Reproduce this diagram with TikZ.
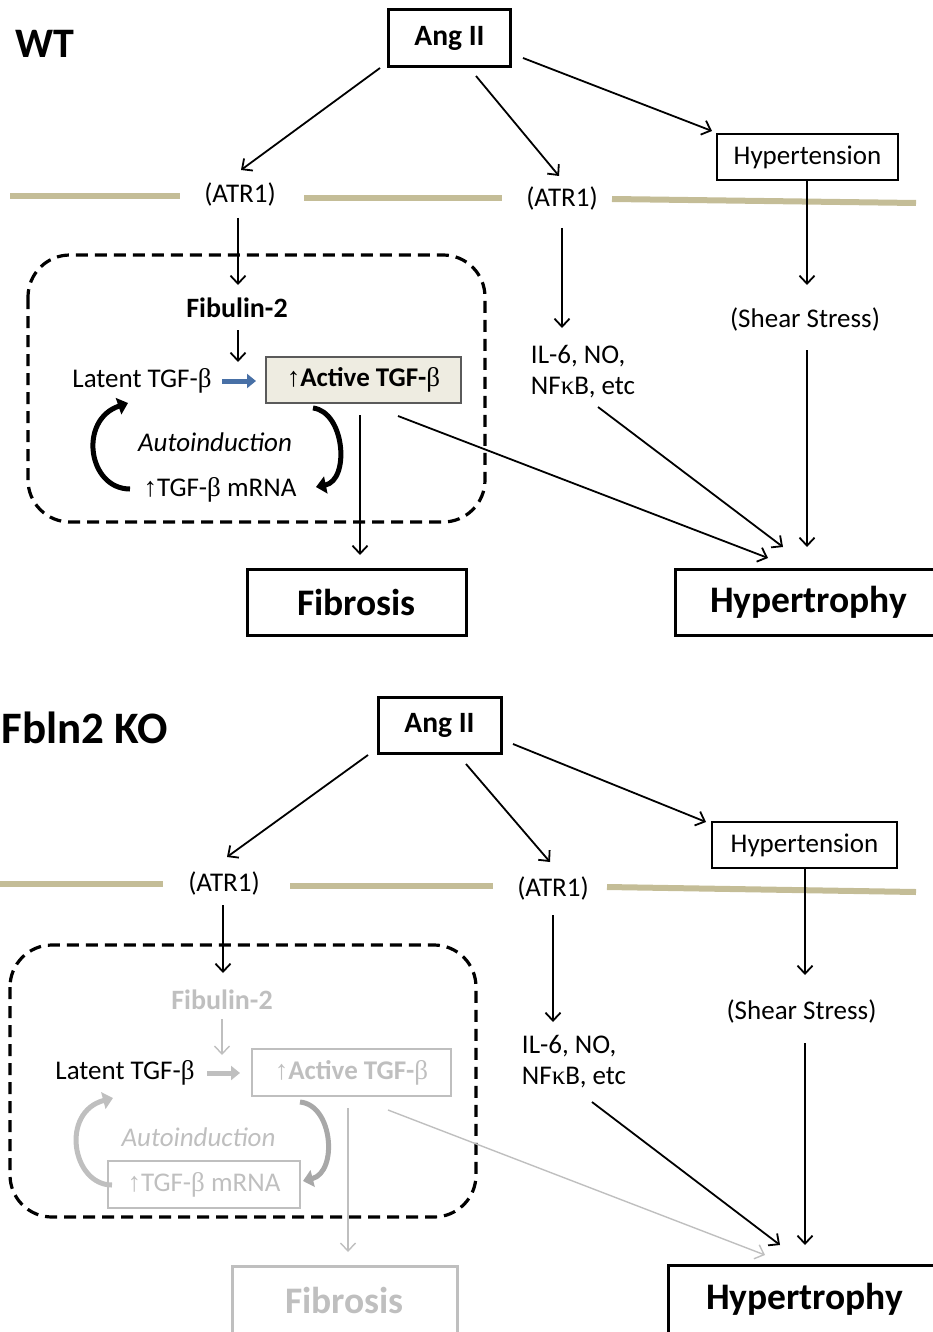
\documentclass[tikz,border=0pt]{standalone}
\usepackage{fontspec}
\setmainfont{Carlito}
\newfontfamily\grk{Liberation Serif}
\usetikzlibrary{arrows.meta}

\newcommand{\tgfb}{{\grk\mdseries β}}
\newcommand{\upar}{{\grk\mdseries ↑}}

\definecolor{membr}{RGB}{196,189,151}
\definecolor{actfill}{RGB}{238,236,225}
\definecolor{actline}{RGB}{90,90,90}
\definecolor{pushblue}{RGB}{72,112,166}
\definecolor{kogrey}{RGB}{191,191,191}
\definecolor{loopgrey}{RGB}{168,168,168}

\tikzset{
 lbl/.style={inner sep=0pt, font=\fontsize{42}{48}\selectfont\bfseries},
 txt/.style={inner sep=0pt, font=\fontsize{27}{31}\selectfont},
 btxt/.style={inner sep=0pt, font=\fontsize{28}{31}\selectfont\bfseries},
 itxt/.style={inner sep=0pt, font=\fontsize{27}{31}\selectfont\itshape},
 angbox/.style={draw, line width=3pt, minimum width=122pt, minimum height=57pt, inner sep=0pt, font=\fontsize{29.5}{33}\selectfont\bfseries},
 hypbox/.style={draw, line width=1.2pt, minimum width=181pt, minimum height=46pt, inner sep=0pt, font=\fontsize{27}{31}\selectfont},
 actbox/.style={draw=actline, fill=actfill, line width=1.2pt, minimum width=195pt, minimum height=46pt, inner sep=0pt, font=\fontsize{27}{31}\selectfont\bfseries},
 endbox/.style={draw, line width=3pt, minimum height=66pt, inner sep=0pt, font=\fontsize{37.5}{42}\selectfont\bfseries},
 arr/.style={-{Straight Barb[length=8pt,width=15pt]}, line width=1.8pt},
 greyarr/.style={arr, kogrey, line width=1.4pt},
 loop/.style={-{Triangle[length=10pt,width=17pt]}, line width=5pt},
 push/.style={-{Triangle[length=9pt,width=14pt]}, line width=5pt},
 membrane/.style={line width=6pt, color=membr},
 cellwall/.style={line width=3.2pt, dash pattern=on 12pt off 7pt, rounded corners=42pt}
}

\begin{document}
\begin{tikzpicture}[x=1pt,y=-1pt]
 \path[use as bounding box] (0,0) rectangle (933,1332);
 \clip (0,0) rectangle (933,1332);

 % ---- WT ----
 \node[lbl] (wt) at (44.5,44) {WT};
 \node[angbox] (angA) at (449.5,38) {Ang II};
 \node[hypbox] (hypA) at (807.5,157) {Hypertension};
 \draw[membrane] (10,196) -- (180,196);
 \draw[membrane] (304,198) -- (502,198);
 \draw[membrane] (612,199) -- (916,203);
 \node[txt] (atrLA) at (240,194) {(ATR1)};
 \node[txt] (atrMA) at (562,198) {(ATR1)};
 \draw[cellwall] (28,255) rectangle (485,522);
 \node[btxt] (fibA) at (237,308) {Fibulin-2};
 \coordinate (jA) at (238,362);
 \node[txt] (latA) at (142,381) {Latent TGF-\tgfb};
 \node[actbox] (actA) at (363.5,380) {\upar Active TGF-\tgfb};
 \node[itxt] (autoA) at (215,442) {Autoinduction};
 \node[txt] (mrnaA) at (220,490) {\upar TGF-\tgfb{} mRNA};
 \node[txt, align=left] (ilA) at (583,372) {IL-6, NO,\\NF{\grk κ}B, etc};
 \node[txt] (shearA) at (805,319) {(Shear Stress)};
 \node[endbox, minimum width=219pt] (fibrA) at (356.5,602) {Fibrosis};
 \node[endbox, minimum width=270pt, text width=266pt, align=left] (hyperA) at (810,602) {\hspace*{33pt}Hypertrophy};

 \draw[arr] ([shift={(-69.5,30)}]angA.center) -- ([shift={(1,-24)}]atrLA.center);
 \draw[arr] ([shift={(26.5,38)}]angA.center) -- ([shift={(-3,-22)}]atrMA.center);
 \draw[arr] ([shift={(73.5,20)}]angA.center) -- ([shift={(-95.5,-26)}]hypA.center);
 \draw[arr] ([shift={(-2,24)}]atrLA.center) -- ([shift={(1,-23)}]fibA.center);
 \draw[arr] ([shift={(1,22)}]fibA.center) -- (jA);
 \draw[push, pushblue] ([shift={(80,0)}]latA.center) -- ([shift={(-107.5,1)}]actA.center);
 \draw[loop] ([shift={(-90,-1)}]mrnaA.center) .. controls (88,489) and (78,420) .. ([shift={(-14,22)}]latA.center);
 \draw[loop] ([shift={(-50.5,28)}]actA.center) .. controls (345,412) and (350,480) .. ([shift={(96,-3)}]mrnaA.center);
 \draw[arr] ([shift={(-3.5,35)}]actA.center) -- ([shift={(3.5,-47)}]fibrA.center);
 \draw[arr] ([shift={(34.5,36)}]actA.center) -- ([shift={(-42,-44)}]hyperA.center);
 \draw[arr] ([shift={(0,30)}]atrMA.center) -- ([shift={(-21,-44)}]ilA.center);
 \draw[arr] ([shift={(15,35)}]ilA.center) -- ([shift={(-27,-55)}]hyperA.center);
 \draw[arr] ([shift={(-0.5,23)}]hypA.center) -- ([shift={(2,-34)}]shearA.center);
 \draw[arr] ([shift={(2,31)}]shearA.center) -- ([shift={(-3,-55)}]hyperA.center);

 % ---- Fbln2 KO ----
 \node[lbl, font=\fontsize{45}{50}\selectfont\bfseries] (ko) at (84.5,728) {Fbln2 KO};
 \node[angbox, minimum width=123pt, minimum height=56pt] (angB) at (439.5,725) {Ang II};
 \node[hypbox, minimum width=185pt] (hypB) at (804.5,845) {Hypertension};
 \draw[membrane] (0,884) -- (163,884);
 \draw[membrane] (290,886) -- (493,886);
 \draw[membrane] (607,887) -- (916,892);
 \node[txt] (atrLB) at (224,883) {(ATR1)};
 \node[txt] (atrMB) at (553,888) {(ATR1)};
 \draw[cellwall] (10,945) rectangle (476,1217);
 \node[btxt, kogrey] (fibB) at (222,1000) {Fibulin-2};
 \coordinate (jB) at (222,1055);
 \node[txt] (latB) at (125,1073) {Latent TGF-\tgfb};
 \node[actbox, draw=kogrey, fill=none, text=kogrey, minimum width=199pt, minimum height=47pt] (actB) at (351.5,1072.5) {\upar Active TGF-\tgfb};
 \node[itxt, kogrey] (autoB) at (198.5,1137) {Autoinduction};
 \node[hypbox, draw=kogrey, text=kogrey, minimum width=192pt, minimum height=47pt] (mrnaB) at (204,1184.5) {\upar TGF-\tgfb{} mRNA};
 \node[txt, align=left] (ilB) at (574,1062) {IL-6, NO,\\NF{\grk κ}B, etc};
 \node[txt] (shearB) at (801.5,1011) {(Shear Stress)};
 \node[endbox, draw=kogrey, text=kogrey, minimum width=225pt, minimum height=68pt] (fibrB) at (344.5,1300) {Fibrosis};
 \node[endbox, minimum width=277pt, minimum height=68pt, text width=273pt, align=left] (hyperB) at (806.5,1299) {\hspace*{36pt}Hypertrophy};

 \draw[arr] ([shift={(-71.5,30)}]angB.center) -- ([shift={(3,-26)}]atrLB.center);
 \draw[arr] ([shift={(26.5,39)}]angB.center) -- ([shift={(-3,-26)}]atrMB.center);
 \draw[arr] ([shift={(73.5,19)}]angB.center) -- ([shift={(-98.5,-23)}]hypB.center);
 \draw[arr] ([shift={(-1,22)}]atrLB.center) -- ([shift={(1,-27)}]fibB.center);
 \draw[greyarr] ([shift={(0,19)}]fibB.center) -- (jB);
 \draw[push, kogrey] ([shift={(82,0)}]latB.center) -- ([shift={(-111.5,0.5)}]actB.center);
 \draw[loop, kogrey] ([shift={(-92,0.5)}]mrnaB.center) .. controls (72,1185) and (60,1112) .. ([shift={(-12,25)}]latB.center);
 \draw[loop, loopgrey] ([shift={(-51.5,29.5)}]actB.center) .. controls (333,1105) and (338,1172) .. ([shift={(99,-3.5)}]mrnaB.center);
 \draw[greyarr] ([shift={(-3.5,35.5)}]actB.center) -- ([shift={(3.5,-48)}]fibrB.center);
 \draw[greyarr] ([shift={(36.5,37.5)}]actB.center) -- ([shift={(-41.5,-44)}]hyperB.center);
 \draw[arr] ([shift={(0,27)}]atrMB.center) -- ([shift={(-21,-40)}]ilB.center);
 \draw[arr] ([shift={(18,40)}]ilB.center) -- ([shift={(-26.5,-54)}]hyperB.center);
 \draw[arr] ([shift={(0.5,23)}]hypB.center) -- ([shift={(3.5,-36)}]shearB.center);
 \draw[arr] ([shift={(3.5,32)}]shearB.center) -- ([shift={(-1.5,-54)}]hyperB.center);
\end{tikzpicture}
\end{document}
